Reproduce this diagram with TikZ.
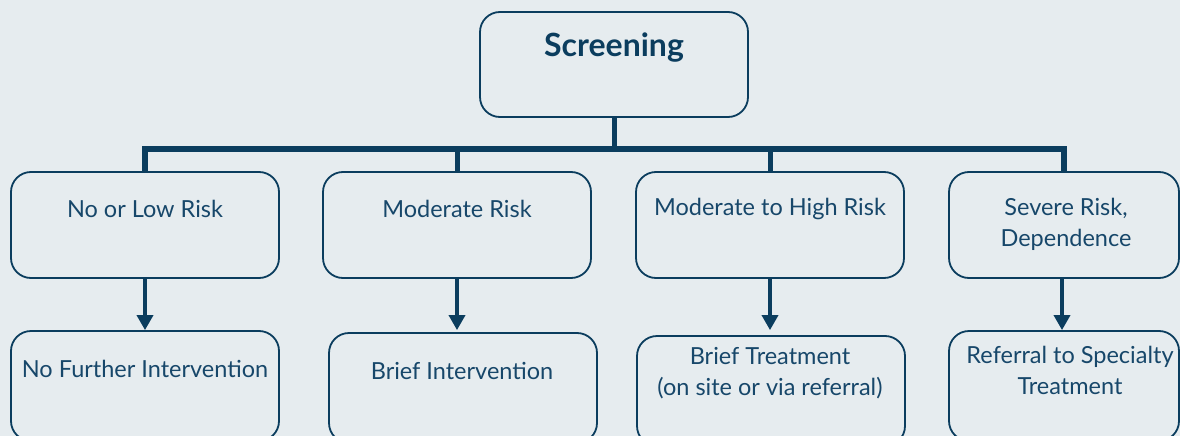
\documentclass[tikz,border=0pt]{standalone}
\usepackage{fontspec}
\setmainfont{Lato}
\usetikzlibrary{arrows.meta}
\definecolor{bg}{HTML}{E6ECEF}
\definecolor{navy}{HTML}{0B3D5E}
\definecolor{txt}{HTML}{17476A}
\tikzset{
  box/.style={draw=navy, line width=1.8pt, rounded corners=20pt, fill=bg, inner sep=0pt},
  lbl/.style={text=txt, font=\fontsize{23.5}{31}\selectfont, align=center, inner sep=0pt},
  trunk/.style={draw=navy, line width=5pt},
  arr/.style={draw=navy, line width=3.5pt, -{Triangle[length=15pt,width=16pt]}}
}
\begin{document}
\begin{tikzpicture}[x=1pt,y=-1pt]
\fill[bg] (0,0) rectangle (1180,436);
\useasboundingbox (0,0) rectangle (1180,436);
\clip (0,0) rectangle (1180,436);
% top
\node[box, minimum width=268pt, minimum height=105pt] (s) at (614,64.5) {};
\node[lbl, font=\fontsize{32}{36}\bfseries\selectfont, text=navy] (st) at (614,48) {Screening};
% row 2
\node[box, minimum width=268pt, minimum height=106pt] (a1) at (145,225) {};
\node[box, minimum width=268pt, minimum height=106pt] (a2) at (457,225) {};
\node[box, minimum width=268pt, minimum height=106pt] (a3) at (770,225) {};
\node[box, minimum width=230pt, minimum height=106pt] (a4) at (1064,225) {};
\node[lbl] (a1t) at (145,209) {No or Low Risk};
\node[lbl] (a2t) at (457,209) {Moderate Risk};
\node[lbl] (a3t) at (770,209) {Moderate to High Risk};
\node[lbl] (a4t) at (1066,224) {Severe Risk,\\Dependence};
% row 3
\node[box, minimum width=268pt, minimum height=110pt] (c1) at (145,386) {};
\node[box, minimum width=268pt, minimum height=110pt] (c2) at (463,388) {};
\node[box, minimum width=268pt, minimum height=110pt] (c3) at (771,391) {};
\node[box, minimum width=230pt, minimum height=110pt] (c4) at (1064,386) {};
\node[lbl] (c1t) at (145,369) {No Further Intervention};
\node[lbl] (c2t) at (462,371) {Brief Intervention};
\node[lbl] (c3t) at (770,373) {Brief Treatment\\(on site or via referral)};
\node[lbl] (c4t) at (1070,370) {Referral to Specialty\\Treatment};
% tree connectors
\coordinate (bar) at (614,149);
\draw[trunk] (s.south) -- (bar);
\draw[trunk, line width=6pt] (a1.north) |- (bar) -| (a4.north);
\draw[trunk] (a2.north) -- (a2.north |- bar);
\draw[trunk] (a3.north) -- (a3.north |- bar);
% arrows
\draw[arr] (a1.south) -- (a1.south |- c1.north);
\draw[arr] (a2.south) -- (a2.south |- c1.north);
\draw[arr] (a3.south) -- (a3.south |- c1.north);
\draw[arr] ([xshift=-2pt]a4.south) -- ([xshift=-2pt]a4.south |- c1.north);
\end{tikzpicture}
\end{document}
